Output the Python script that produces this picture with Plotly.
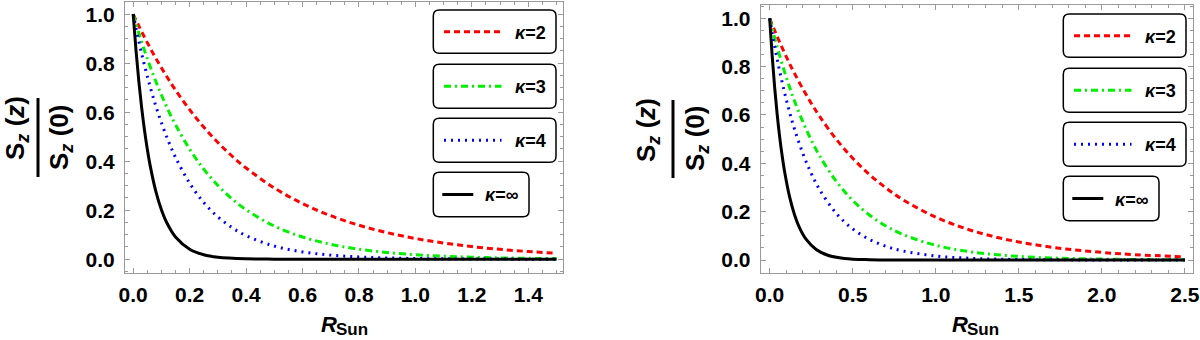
import plotly.graph_objects as go

W, H = 1200, 340

# ---- data ----
# left panel
x_left = [0, 0.02, 0.04, 0.06, 0.08, 0.1, 0.125, 0.15, 0.2, 0.25, 0.3, 0.35, 0.4,
          0.5, 0.6, 0.7, 0.8, 0.9, 1.0, 1.1, 1.2, 1.3, 1.4, 1.5]
k2_left = [1, 0.9518, 0.9059, 0.8623, 0.8207, 0.7811, 0.7344, 0.6904, 0.6102, 0.5393,
           0.4766, 0.4213, 0.3723, 0.2908, 0.2272, 0.1775, 0.1386, 0.1083, 0.0846,
           0.0661, 0.0516, 0.0403, 0.0315, 0.0246]
k3_left = [1, 0.9231, 0.8521, 0.7866, 0.7261, 0.6703, 0.6065, 0.5488, 0.4493, 0.3679,
           0.3012, 0.2466, 0.2019, 0.1353, 0.0907, 0.0608, 0.0408, 0.0273, 0.0183,
           0.0123, 0.0082, 0.0055, 0.0037, 0.0025]
k4_left = [1, 0.8896, 0.7914, 0.7040, 0.6263, 0.5571, 0.4813, 0.4158, 0.3104, 0.2316,
           0.1729, 0.1291, 0.0963, 0.0537, 0.0299, 0.0167, 0.0093, 0.0052, 0.0029,
           0.0016, 0.0009, 0.0005, 0.0003, 0.0002]
x_inf_left = [0, 0.01, 0.02, 0.03, 0.04, 0.05, 0.06, 0.08, 0.1, 0.12, 0.15, 0.2, 0.25,
              0.3, 0.4, 0.5, 0.7, 1.0, 1.5]
kinf_left = [1, 0.8521, 0.7261, 0.6188, 0.5273, 0.4493, 0.3829, 0.2780, 0.2019, 0.1466,
             0.0907, 0.0408, 0.0183, 0.0082, 0.0017, 0.0003, 0.0, 0.0, 0.0]

# right panel
x_right = [0, 0.03, 0.06, 0.09, 0.12, 0.15, 0.2, 0.25, 0.3, 0.4, 0.5, 0.6, 0.7, 0.8,
           1.0, 1.2, 1.4, 1.6, 1.8, 2.0, 2.2, 2.5]
k2_right = [1, 0.9494, 0.9014, 0.8558, 0.8125, 0.7714, 0.7075, 0.6489, 0.5951, 0.5006,
            0.4211, 0.3542, 0.2979, 0.2506, 0.1773, 0.1254, 0.0887, 0.0628, 0.0444,
            0.0314, 0.0222, 0.0132]
k3_right = [1, 0.9194, 0.8454, 0.7772, 0.7146, 0.6570, 0.5712, 0.4966, 0.4317, 0.3263,
            0.2466, 0.1864, 0.1409, 0.1065, 0.0608, 0.0347, 0.0198, 0.0113, 0.0065,
            0.0037, 0.0021, 0.0009]
k4_right = [1, 0.8843, 0.7819, 0.6914, 0.6114, 0.5406, 0.4404, 0.3588, 0.2923, 0.1940,
            0.1287, 0.0854, 0.0567, 0.0376, 0.0166, 0.0073, 0.0032, 0.0014, 0.0006,
            0.0003, 0.0001, 0.0]
x_inf_right = [0, 0.015, 0.03, 0.045, 0.06, 0.075, 0.09, 0.12, 0.15, 0.18, 0.22, 0.28,
               0.35, 0.45, 0.6, 0.8, 1.0, 1.5, 2.0, 2.5]
kinf_right = [1, 0.8454, 0.7146, 0.6041, 0.5107, 0.4317, 0.3649, 0.2608, 0.1864, 0.1332,
              0.0851, 0.0434, 0.0198, 0.0065, 0.0012, 0.0001, 0.0, 0.0, 0.0, 0.0]

labels = ['<i>κ</i>=2', '<i>κ</i>=3', '<i>κ</i>=4', '<i>κ</i>=∞']
colors = ['#ff0000', '#00f000', '#0000ff', '#000000']
dashes = ['6px,4px', '7px,4px,2px,4px', '2px,5px', 'solid']
widths = [3, 3, 3, 3]

FONT = 'Liberation Sans, Arial, sans-serif'
FRAME = '#9a9a9a'


def px(x):
    return x / W


def py(y):
    return 1 - y / H


fig = go.Figure()

panels = [
    (x_left, [k2_left, k3_left, k4_left], x_inf_left, kinf_left, 'x', 'y'),
    (x_right, [k2_right, k3_right, k4_right], x_inf_right, kinf_right, 'x2', 'y2'),
]
for xs, curves, xinf, yinf, xa, ya in panels:
    for i, ys in enumerate(curves):
        fig.add_trace(go.Scatter(x=xs, y=ys, mode='lines', xaxis=xa, yaxis=ya,
                                 line=dict(color=colors[i], width=widths[i], dash=dashes[i],
                                           shape='spline'),
                                 showlegend=False, hoverinfo='skip'))
    fig.add_trace(go.Scatter(x=xinf, y=yinf, mode='lines', xaxis=xa, yaxis=ya,
                             line=dict(color=colors[3], width=widths[3], shape='spline'),
                             showlegend=False, hoverinfo='skip'))


def frame_axis(**kw):
    d = dict(showline=True, linecolor=FRAME, linewidth=1, mirror='allticks',
             ticks='inside', ticklen=5, tickcolor=FRAME, tickwidth=1,
             showgrid=False, zeroline=False, tickformat='.1f', automargin=False,
             tickfont=dict(family=FONT, size=21, color='black', weight='bold'))
    d.update(kw)
    return d


minor_y = dict(ticks='inside', ticklen=3, dtick=0.05, tickcolor=FRAME, showgrid=False)

fig.update_layout(
    width=W, height=H,
    margin=dict(l=0, r=0, t=0, b=0),
    paper_bgcolor='white', plot_bgcolor='white',
    xaxis=frame_axis(domain=[px(125), px(563.3)], range=[-0.029, 1.524], dtick=0.2,
                     anchor='y', ticklabelstandoff=3,
                     minor=dict(ticks='inside', ticklen=3, dtick=0.05, tickcolor=FRAME)),
    yaxis=frame_axis(domain=[py(272.7), py(1.7)], range=[-0.055, 1.051], dtick=0.2,
                     anchor='x', ticklabelstandoff=5, minor=minor_y),
    xaxis2=frame_axis(domain=[px(760.7), px(1192.7)], range=[-0.054, 2.547], dtick=0.5,
                      anchor='y2', ticklabelstandoff=3,
                      minor=dict(ticks='inside', ticklen=3, dtick=0.1, tickcolor=FRAME)),
    yaxis2=frame_axis(domain=[py(272.7), py(5)], range=[-0.0525, 1.055], dtick=0.2,
                      anchor='x2', ticklabelstandoff=5, minor=minor_y),
)

shapes = []
annotations = []


def note(x, y, text, size, angle=0):
    annotations.append(dict(x=px(x), y=py(y), xref='paper', yref='paper', text=text,
                            showarrow=False, textangle=angle, borderpad=0,
                            xanchor='center', yanchor='middle',
                            font=dict(family=FONT, size=size, color='black', weight='bold')))


def rounded_box(x0, y0, x1, y1, r=6):
    # pixel coords -> paper path with rounded corners
    rx, ry = r / W, r / H
    a, b, c, d = px(x0), py(y1), px(x1), py(y0)
    path = (f'M {a + rx},{b} L {c - rx},{b} Q {c},{b} {c},{b + ry} '
            f'L {c},{d - ry} Q {c},{d} {c - rx},{d} '
            f'L {a + rx},{d} Q {a},{d} {a},{d - ry} '
            f'L {a},{b + ry} Q {a},{b} {a + rx},{b} Z')
    return dict(type='path', path=path, xref='paper', yref='paper',
                line=dict(color='black', width=1.5), fillcolor='white', layer='above')


def legend(dx, dy):
    boxes = [(433.3, 10, 556, 53.3), (433.3, 64.3, 556, 108.3),
             (433.3, 118.3, 556, 162.3), (433.3, 172.3, 529, 216.7)]
    for i, (x0, y0, x1, y1) in enumerate(boxes):
        shapes.append(rounded_box(x0 + dx, y0 + dy, x1 + dx, y1 + dy))
        ym = (y0 + y1) / 2 + dy
        if i < 3:
            lx0, lx1, tx = 444, 501.5, 530.5
        else:
            lx0, lx1, tx = 442.3, 473.3, 501.5
        shapes.append(dict(type='line', xref='paper', yref='paper',
                           x0=px(lx0 + dx), x1=px(lx1 + dx), y0=py(ym), y1=py(ym),
                           line=dict(color=colors[i], width=3, dash=dashes[i]),
                           layer='above'))
        note(tx + dx, ym + 1, labels[i], 18)


def ylabel(xn, yn, xd, yd, xbar, ytop, ybot):
    note(xn, yn, 'S<sub><i>z</i></sub> (<i>z</i>)', 26, angle=-90)
    note(xd, yd, 'S<sub><i>z</i></sub> (0)', 26, angle=-90)
    shapes.append(dict(type='line', xref='paper', yref='paper', x0=px(xbar), x1=px(xbar),
                       y0=py(ytop), y1=py(ybot), line=dict(color='black', width=3)))


def xlabel(xr):
    note(xr, 324, '<i>R</i>', 22)
    note(xr + 23, 329.5, 'Sun', 17)


legend(0, 0)
legend(630, 4)
ylabel(16, 128, 60, 138, 38, 98, 177)
ylabel(647, 130, 696, 139, 673, 100, 178)
xlabel(329)
xlabel(960)

fig.update_layout(shapes=shapes, annotations=annotations)

fig.write_html("out.html", config={'displayModeBar': False},
               post_script="document.body.style.margin='0';")
